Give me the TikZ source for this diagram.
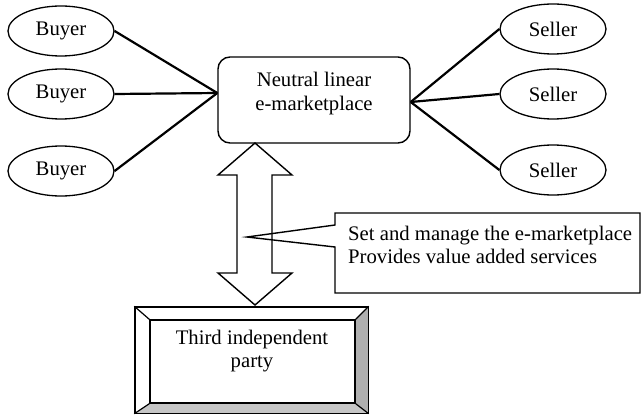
\documentclass[tikz,border=0pt]{standalone}
\usepackage{fontspec}
\setmainfont{Liberation Serif}
\usetikzlibrary{shapes.geometric}

\tikzset{
  party/.style={ellipse, draw, line width=1.3pt, minimum width=106pt, minimum height=50pt, inner sep=0pt},
  hubbox/.style={draw, rounded corners=12pt, line width=1.4pt, minimum width=192pt, minimum height=86pt, inner sep=0pt},
  link/.style={line width=2.2pt},
  outline/.style={line width=1.4pt, line join=miter},
  label/.style={align=center, inner sep=0pt},
  plainbox/.style={draw, line width=1.4pt, inner sep=0pt},
}

\begin{document}
\begin{tikzpicture}[x=1pt, y=-1pt, font=\fontsize{20.7}{23.5}\selectfont]
\useasboundingbox[fill=white] (0,0) rectangle (644,417);

% buyers and sellers
\node[party] (b1) at (61,31)  {Buyer};
\node[party] (b2) at (61,94)  {Buyer};
\node[party] (b3) at (61,171) {Buyer};
\node[party] (s1) at (553,29)  {Seller};
\node[party] (s2) at (553,94)  {Seller};
\node[party] (s3) at (553,170) {Seller};

% the marketplace in the middle
\node[hubbox] (hub) at (314,100) {};
\node[label] (hubtext) at (314,93.5) {Neutral linear\\e-marketplace};

\coordinate (hubL) at ([yshift=7pt]hub.west);
\coordinate (hubR) at ([yshift=-2pt]hub.east);
\foreach \b in {b1,b2,b3} \draw[link] (\b.east) -- (hubL);
\foreach \s in {s1,s2,s3} \draw[link] (\s.west) -- (hubR);

% third independent party, bevelled frame
\node[plainbox, minimum width=233pt, minimum height=106pt] (tp) at (251.5,360) {};
\node[plainbox, minimum width=205pt, minimum height=83pt] (tpin) at (252.5,361.5) {};
\fill[gray!95!black!60] (tp.north east) -- (tpin.north east) -- (tpin.south east) -- (tp.south east) -- cycle;
\fill[gray!45] (tp.south west) -- (tpin.south west) -- (tpin.south east) -- (tp.south east) -- cycle;
\draw[outline] (tp.north west) rectangle (tp.south east);
\draw[outline] (tpin.north west) rectangle (tpin.south east);
\foreach \c in {north west,north east,south west,south east}
  \draw[line width=1.2pt] (tp.\c) -- (tpin.\c);
\node[label] (tptext) at (252,351) {Third independent\\party};

% two-way arrow between marketplace and third party
\draw[outline, fill=white] (255,143) -- (292,175) -- (272,175) -- (272,273) -- (292,273)
  -- (255,305) -- (218,273) -- (237,273) -- (237,175) -- (218,175) -- cycle;

% callout with the roles of the third party
\draw[outline] (335,225) -- (335,213) -- (640,213) -- (640,293) -- (335,293) -- (335,247)
  -- (247,237) -- cycle;
\node[align=left, inner sep=0pt, anchor=west] (note) at (348,245)
  {Set and manage the e-marketplace\\Provides value added services};
\end{tikzpicture}
\end{document}
